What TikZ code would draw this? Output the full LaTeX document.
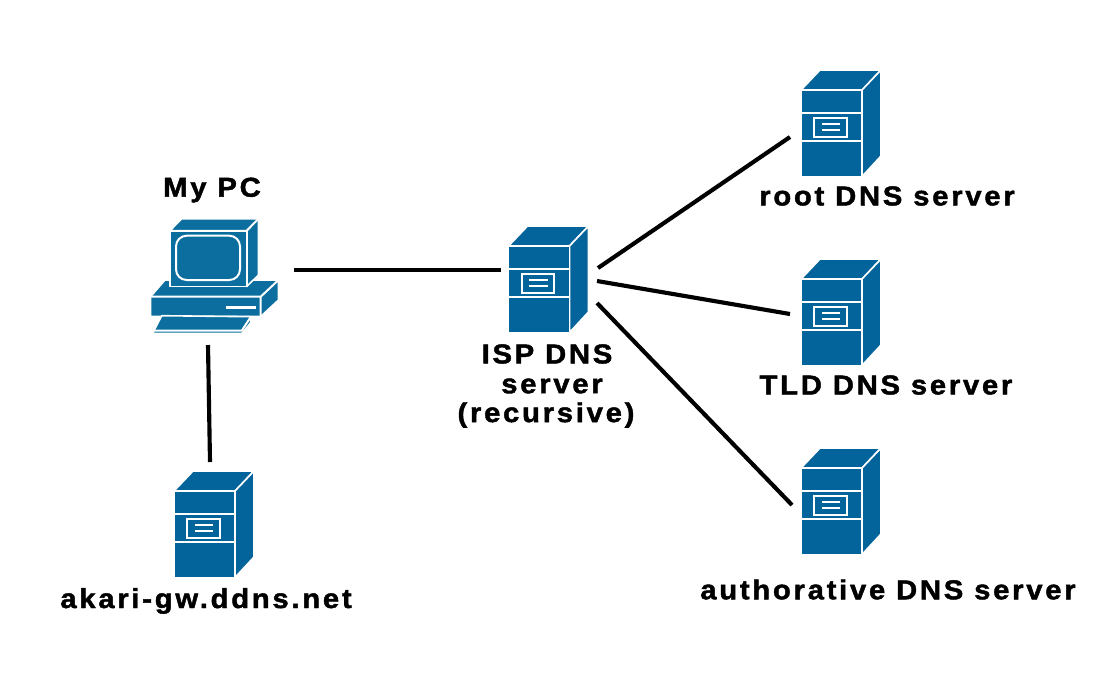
\documentclass[tikz,border=0pt]{standalone}
\usepackage{fontspec}
\setmainfont{Liberation Sans}[LetterSpace=10,BoldFeatures={FakeStretch=1.07,FakeBold=1.6}]
\definecolor{srv}{HTML}{02649A}
\definecolor{pcb}{HTML}{0B6E9F}
\tikzset{
  face/.style={fill=srv,draw=white,line width=1.2pt,line join=round},
  pcface/.style={fill=pcb,draw=white,line width=1.2pt,line join=round},
  trim/.style={draw=white,line width=1.5pt},
  link/.style={draw=black,line width=3.1pt},
  lbl/.style={font=\fontsize{20.5}{22}\selectfont\bfseries,text=black,inner sep=0pt,align=center},
  pics/serverbox/.style={code={
    \path[face] (0,0) -- (19,-20) -- (80,-20) -- (61,0) -- cycle;
    \path[face] (61,0) -- (80,-20) -- (80,66) -- (61,86.5) -- cycle;
    \path[face] (0,0) rectangle (61,86.5);
    \draw[trim] (0,22.7) -- (61,22.7) (0,50.7) -- (61,50.7);
    \draw[trim] (13.3,28.3) rectangle (45.7,46.7);
    \draw[trim,line width=1.1pt] (20.7,34) -- (39,34) (20.7,40) -- (39,40);
  }}
}
\begin{document}
\begin{tikzpicture}[x=0.75pt,y=-0.75pt]
\useasboundingbox (0,0) rectangle (1120,690);
% PC
\path[pcface] (165,280) -- (278.5,280) -- (278.5,300) -- (260.7,316.5) -- (150.5,316.5) -- (150.5,296.7) -- cycle;
\draw[trim] (150.5,296.7) -- (260.7,296.7) -- (278.5,280) (260.7,296.7) -- (260.7,316.5);
\path[pcface] (170,230.7) -- (181.7,218.7) -- (258.5,218.7) -- (258.5,275) -- (246.7,286.5) -- (246.7,230.7) -- cycle;
\path[pcface] (170,230.7) rectangle (246.7,286.5);
\draw[trim] (246.7,230.7) -- (258.5,218.7);
\draw[trim,rounded corners=8] (176,235.7) rectangle (240,280);
\path[fill=white] (225.7,305.7) rectangle (255.7,308.7);
\path[pcface] (161.7,315.7) -- (250.7,316.7) -- (250.7,322.7) -- (241.7,333.5) -- (152.5,333.5) -- cycle;
\draw[trim] (153,330.7) -- (241.7,330.7) -- (250.7,317);
% servers
\pic at (801,90) {serverbox};
\pic at (801,279) {serverbox};
\pic at (801,468) {serverbox};
\pic at (508.5,246) {serverbox};
\pic at (174,491) {serverbox};
% labels
\node[lbl] (pclabel) at (212,190) {My PC};
\node[lbl] (rootlabel) at (887,196) {root DNS server};
\node[lbl] (tldlabel) at (886,385) {TLD DNS server};
\node[lbl] (authlabel) at (888,589.5) {authorative DNS server};
\node[lbl] (akarilabel) at (206,601) {akari-gw.ddns.net};
\node[lbl] at (547,354) (isp1) {ISP DNS};
\node[lbl] at (552,386) (isp2) {server};
\node[lbl] at (546,415) (isp3) {(recursive)};
% connectors
\coordinate (pcR) at (294,270);
\coordinate (ispL) at (501,270);
\coordinate (pcB) at (208,345);
\coordinate (akT) at (210,462);
\coordinate (ispA) at (598,268);
\coordinate (rootE) at (790,137);
\coordinate (ispB) at (597,281);
\coordinate (tldE) at (790,314);
\coordinate (ispC) at (597,303);
\coordinate (authE) at (792,505);
\draw[link] (pcR) -- (ispL);
\draw[link] (pcB) -- (akT);
\draw[link] (ispA) -- (rootE);
\draw[link] (ispB) -- (tldE);
\draw[link] (ispC) -- (authE);
\end{tikzpicture}
\end{document}
